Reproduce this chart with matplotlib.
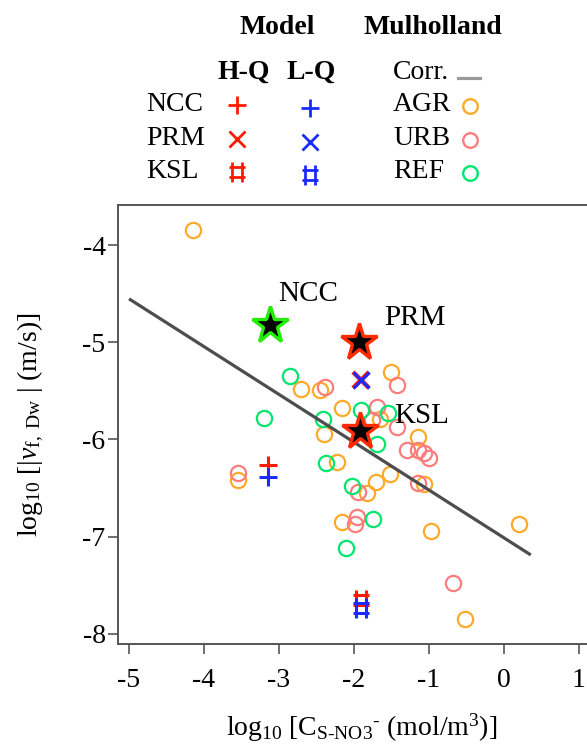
import numpy as np
import matplotlib
matplotlib.use("Agg")
import matplotlib.pyplot as plt
from matplotlib.path import Path
from matplotlib.lines import Line2D

plt.rcParams['font.family'] = ['Liberation Serif', 'DejaVu Serif']
plt.rcParams['mathtext.fontset'] = 'custom'
plt.rcParams['mathtext.rm'] = 'Liberation Serif'
plt.rcParams['mathtext.it'] = 'Liberation Serif:italic'
plt.rcParams['mathtext.bf'] = 'Liberation Serif:bold'

# Mulholland field data (log10 concentration, log10 |vf|)
agr_x = [-4.15, -2.70, -2.45, -1.50, -2.16, -1.65, -2.40, -1.14, -2.22, -1.83,
         -1.70, -1.52, -1.07, 0.20, -2.16, -0.97, -0.52, -3.54]
agr_y = [-3.84, -5.48, -5.49, -5.30, -5.68, -5.79, -5.94, -5.97, -6.23, -6.55,
         -6.44, -6.36, -6.46, -6.87, -6.85, -6.94, -7.85, -6.42]
urb_x = [-2.39, -1.43, -1.69, -1.76, -1.43, -1.29, -1.14, -1.07, -1.00, -1.94,
         -1.14, -1.99, -1.96, -0.68, -3.54]
urb_y = [-5.46, -5.44, -5.67, -5.80, -5.87, -6.11, -6.11, -6.14, -6.19, -6.54,
         -6.45, -6.87, -6.80, -7.48, -6.35]
ref_x = [-2.85, -3.20, -1.90, -1.54, -2.41, -1.69, -2.37, -2.03, -1.75, -2.11]
ref_y = [-5.35, -5.78, -5.70, -5.73, -5.79, -6.05, -6.24, -6.48, -6.82, -7.12]

# regression line end points
corr_x = [-5.0, 0.36]
corr_y = [-4.55, -7.19]

# model sites
sites = ['NCC', 'PRM', 'KSL']
site_x = [-3.12, -1.93, -1.92]
site_y = [-4.82, -5.00, -5.91]
star_edge = ['#22ee00', '#ff2a00', '#ff2a00']
label_x = [-2.61, -1.19, -1.10]
label_y = [-4.50, -4.75, -5.76]

model_x = [-3.14, -1.91, -1.91]
hq_y = [-6.26, -5.39, -7.65]
lq_y = [-6.39, -5.39, -7.74]

c_agr = '#ffaa2a'
c_urb = '#fb7d7d'
c_ref = '#00e66e'
c_hq = '#ff1a00'
c_lq = '#1a2bff'

# sharp sign marker
sharp = Path([(-0.5, 0.3), (0.5, 0.3), (-0.5, -0.3), (0.5, -0.3),
              (-0.3, 0.6), (-0.3, -0.6), (0.3, 0.6), (0.3, -0.6)],
             [Path.MOVETO, Path.LINETO] * 4)
model_markers = ['+', 'x', sharp]
model_ms = [13, 11, 14]

fig = plt.figure(figsize=(5.87, 7.48), dpi=100)
ax = fig.add_axes([118 / 587, 104 / 748, 487 / 587, 439 / 748])

circ = dict(marker='o', ms=11, mfc='none', mew=1.6, ls='none')
ax.plot(agr_x, agr_y, mec=c_agr, **circ)
ax.plot(urb_x, urb_y, mec=c_urb, **circ)
ax.plot(ref_x, ref_y, mec=c_ref, **circ)

ax.plot(corr_x, corr_y, color='#4d4d4d', lw=2.3, solid_capstyle='butt')

for i in range(3):
    ax.plot(model_x[i], hq_y[i], marker=model_markers[i], ms=model_ms[i],
            mew=3.2 if i == 1 else 2.2, color=c_hq, ls='none')
    ax.plot(model_x[i], lq_y[i], marker=model_markers[i], ms=model_ms[i],
            mew=2.2, color=c_lq, ls='none')
    ax.plot(site_x[i], site_y[i], marker='*', ms=28, mfc='black',
            mec=star_edge[i], mew=2.4, ls='none')
    ax.text(label_x[i], label_y[i], sites[i], fontsize=21, ha='center', va='center')

ax.set_xlim(-5.147, 1.35)
ax.set_ylim(-8.108, -3.583)
ax.set_xticks([-5, -4, -3, -2, -1, 0, 1])
ax.set_yticks([-4, -5, -6, -7, -8])
ax.set_xticklabels(['-5', '-4', '-3', '-2', '-1', '0', '1'])
ax.set_yticklabels(['-4', '-5', '-6', '-7', '-8'])
ax.tick_params(axis='both', labelsize=20, length=7, width=1.2, color='#555555')
ax.tick_params(axis='x', pad=10.5)
ax.tick_params(axis='y', pad=2)
for s in ax.spines.values():
    s.set_color('#555555')
    s.set_linewidth(1.4)

ax.set_xlabel(r'log$_{10}$ [C$_{\text{S-NO3}}$$^{\text{-}}$ (mol/m$^{3}$)]',
              fontsize=20, labelpad=13)
ax.set_ylabel(r'log$_{10}$ [|$v_{\mathrm{f,\ Dw}}$ | (m/s)]', fontsize=20, labelpad=26)

# legend block drawn in pixel coordinates
lg = fig.add_axes([0, 0, 1, 1])
lg.set_xlim(0, 587)
lg.set_ylim(748, 0)
lg.axis('off')

lg.text(277, 27, 'Model', fontsize=20, fontweight='bold', ha='center', va='center')
lg.text(433, 27, 'Mulholland', fontsize=20, fontweight='bold', ha='center', va='center')
lg.text(244, 72, 'H-Q', fontsize=20, fontweight='bold', ha='center', va='center')
lg.text(311, 72, 'L-Q', fontsize=20, fontweight='bold', ha='center', va='center')
lg.text(393, 72, 'Corr.', fontsize=20, ha='left', va='center')
lg.add_line(Line2D([458, 480], [78, 78], color='#999999', lw=2.3))

row_y = [104, 138, 171]
for i in range(3):
    lg.text(146, row_y[i], sites[i], fontsize=20, ha='left', va='center')
    lg.plot(237, row_y[i] + 1, marker=model_markers[i], ms=model_ms[i],
            mew=2.0, color=c_hq, ls='none')
    lg.plot(310, row_y[i] + 4, marker=model_markers[i], ms=model_ms[i],
            mew=2.0, color=c_lq, ls='none')

for yy, name, c in zip(row_y, ['AGR', 'URB', 'REF'], [c_agr, c_urb, c_ref]):
    lg.text(393, yy, name, fontsize=20, ha='left', va='center')
    lg.plot(470, yy + 2, marker='o', ms=10.5, mfc='none', mew=1.7, mec=c, ls='none')

fig.savefig('out.png', dpi=100)
